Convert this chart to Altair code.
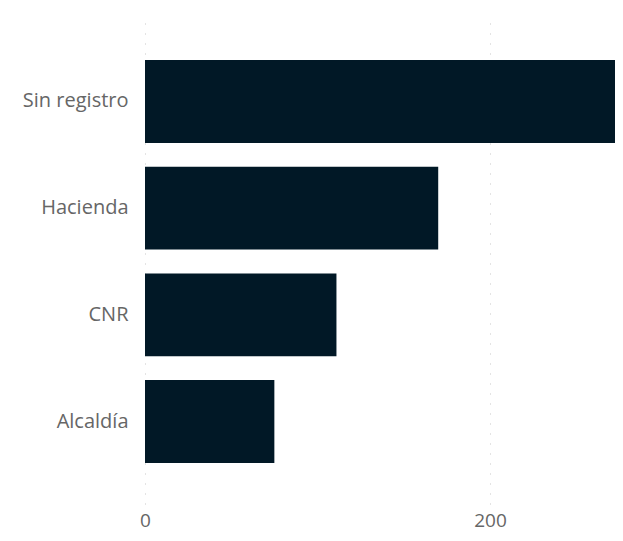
import altair as alt
import pandas as pd

categories = ["Sin registro", "Hacienda", "CNR", "Alcaldía"]
values = [277, 170, 111, 75]
tick_values = [0, 200]

df = pd.DataFrame({"categoria": categories, "valor": values})

chart = alt.Chart(df).mark_bar(color="#011826", clip=True).encode(
    y=alt.Y("categoria:N", sort=categories, title=None,
            scale=alt.Scale(paddingInner=0.223, paddingOuter=0.384),
            axis=alt.Axis(ticks=False, domain=False, labelFontSize=20,
                          labelColor="#666666", labelPadding=17,
                          labelFont="Open Sans", minExtent=137, maxExtent=137,
                          grid=False)),
    x=alt.X("valor:Q", title=None,
            scale=alt.Scale(domain=[0, 272.5], nice=False, zero=True),
            axis=alt.Axis(values=tick_values, ticks=False, domain=False,
                          labelFontSize=19, labelColor="#666666",
                          labelFont="Open Sans", labelPadding=7,
                          labelFlush=False,
                          grid=True, gridColor="#c8c8c8", gridDash=[1, 9],
                          gridWidth=1)),
).properties(
    width=470, height=485,
    padding={"left": 0, "top": 11, "right": 0, "bottom": 3},
).configure_view(stroke=None)

chart.save("out.html", embed_options={"renderer": "svg", "actions": False})
